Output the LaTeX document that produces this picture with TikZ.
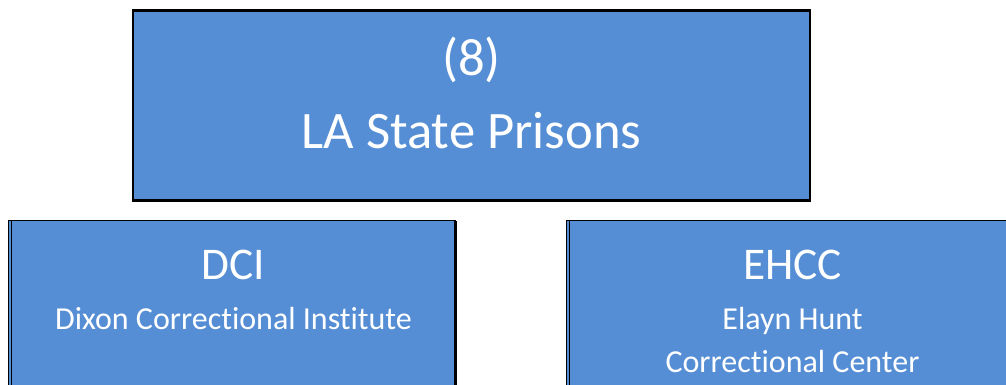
\documentclass[tikz,border=0pt]{standalone}
\usepackage{fontspec}
\setmainfont[Ligatures=CommonOff]{Carlito}
\definecolor{boxblue}{RGB}{85,142,213}
\begin{document}
\begin{tikzpicture}[x=0.75pt,y=-0.75pt]
\tikzset{
  box/.style={draw=black, fill=boxblue, line width=1.6pt, rectangle, inner sep=0pt, outer sep=0pt, anchor=north west},
  bigtxt/.style={anchor=base, text=white, inner sep=0pt, font=\fontsize{39.5}{44}\selectfont},
  midtxt/.style={anchor=base, text=white, inner sep=0pt, font=\fontsize{34}{38}\selectfont},
  smalltxt/.style={anchor=base, text=white, inner sep=0pt, font=\fontsize{24}{28}\selectfont},
  thinline/.style={draw=black, line width=1.1pt}
}
\useasboundingbox (0,0) rectangle (1006,385);
\clip (0,0) rectangle (1006,385);
% top box
\node[box, minimum width=507.75pt, minimum height=142.5pt] (top) at (133,10.5) {};
\node[bigtxt] (t1) at (471.5,75) {(8)};
\node[bigtxt] (t2) at (471.5,148) {LA State Prisons};
% left box
\node[box, line width=1.3pt, minimum width=335.25pt, minimum height=150pt] (left) at (8.5,220.5) {};
\draw[thinline] ([xshift=2.4pt]left.north west) -- ([xshift=2.4pt]left.south west);
\draw[draw=black, line width=2.4pt] ([xshift=-0.3pt,yshift=-0.6pt]left.north east) -- ([xshift=-0.3pt]left.south east);
\node[midtxt] (l1) at (233.5,279) {DCI};
\node[smalltxt] (l2) at (233.5,329) {Dixon Correctional Institute};
% right box
\node[box, line width=1.3pt, minimum width=338.25pt, minimum height=150pt] (right) at (566.5,220.5) {};
\draw[thinline] ([xshift=2.4pt]right.north west) -- ([xshift=2.4pt]right.south west);
\node[midtxt] (r1) at (792.5,279) {EHCC};
\node[smalltxt] (r2) at (792.5,329) {Elayn Hunt};
\node[smalltxt] (r3) at (792.5,372) {Correctional Center};
\end{tikzpicture}
\end{document}
